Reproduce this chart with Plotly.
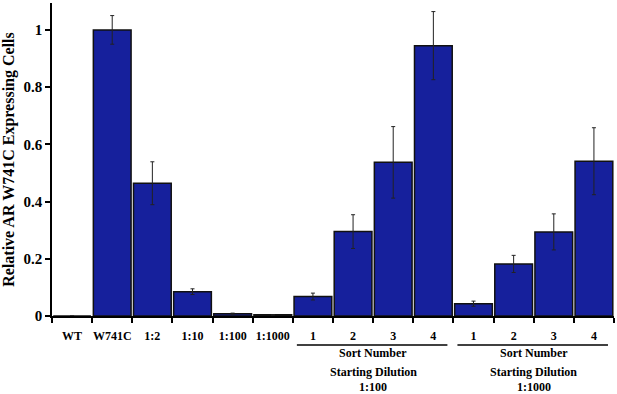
import plotly.graph_objects as go

categories = ["WT", "W741C", "1:2", "1:10", "1:100", "1:1000",
              "1", "2", "3", "4", "1", "2", "3", "4"]
values = [0.0, 1.0, 0.464, 0.085, 0.008, 0.004,
          0.068, 0.295, 0.537, 0.945,
          0.043, 0.182, 0.294, 0.541]
errors = [0.0, 0.05, 0.075, 0.010, 0.002, 0.0,
          0.012, 0.059, 0.125, 0.119,
          0.009, 0.030, 0.063, 0.117]
y_ticks = [0, 0.2, 0.4, 0.6, 0.8, 1]
y_tick_labels = ["0", "0.2", "0.4", "0.6", "0.8", "1"]
group_titles = ["Starting Dilution", "Starting Dilution"]
group_dilutions = ["1:100", "1:1000"]
group_spans = [(6, 9), (10, 13)]
group_sub = "Sort Number"

FONT = "Liberation Serif, Times New Roman, serif"
xs = list(range(len(categories)))

fig = go.Figure()
fig.add_trace(go.Bar(
    x=xs, y=values,
    marker=dict(color="#16209C", line=dict(color="#111111", width=1.5)),
    error_y=dict(type="data", array=errors, visible=True,
                 color="#222222", thickness=1, width=2),
    width=0.94,
    showlegend=False,
))

bold12 = dict(family=FONT, size=12, color="black", weight="bold")
shapes = []
annotations = []
for (a, b), title, dil in zip(group_spans, group_titles, group_dilutions):
    shapes.append(dict(type="line", xref="x", yref="paper",
                       x0=a - 0.4, x1=b + 0.35, y0=-0.093, y1=-0.093,
                       line=dict(color="black", width=1.5)))
    mid = (a + b) / 2
    for yy, txt in ((-0.119, group_sub), (-0.180, title), (-0.227, dil)):
        annotations.append(dict(x=mid, y=yy, xref="x", yref="paper",
                                xanchor="center", yanchor="middle",
                                text=txt, showarrow=False, font=bold12))

fig.update_layout(
    width=617, height=394,
    margin=dict(l=52, r=3, t=3, b=78),
    paper_bgcolor="white", plot_bgcolor="white",
    shapes=shapes, annotations=annotations,
    xaxis=dict(
        range=[-0.5, 13.5], automargin=False,
        tickmode="array", tickvals=xs, ticktext=categories,
        ticks="", showline=True, linecolor="black", linewidth=1.5,
        showgrid=False, zeroline=False, ticklabelstandoff=8,
        tickfont=bold12,
        minor=dict(tickmode="linear", tick0=-0.5, dtick=1, ticks="outside",
                   ticklen=5, tickcolor="black", tickwidth=1.5, showgrid=False),
        fixedrange=True,
    ),
    yaxis=dict(
        range=[0, 1.094], automargin=False,
        tickmode="array", tickvals=y_ticks, ticktext=y_tick_labels,
        ticks="outside", ticklen=5, tickwidth=1.5, tickcolor="black",
        showline=True, linecolor="black", linewidth=1.5,
        showgrid=False, zeroline=False,
        tickfont=dict(family=FONT, size=15, color="black", weight="bold"),
        title=dict(text="Relative AR W741C Expressing Cells", standoff=6,
                   font=dict(family=FONT, size=16, color="black", weight="bold")),
    ),
    bargap=0.06,
)

fig.write_html("out.html", config={"displayModeBar": False},
               post_script="document.body.style.margin='0';")
